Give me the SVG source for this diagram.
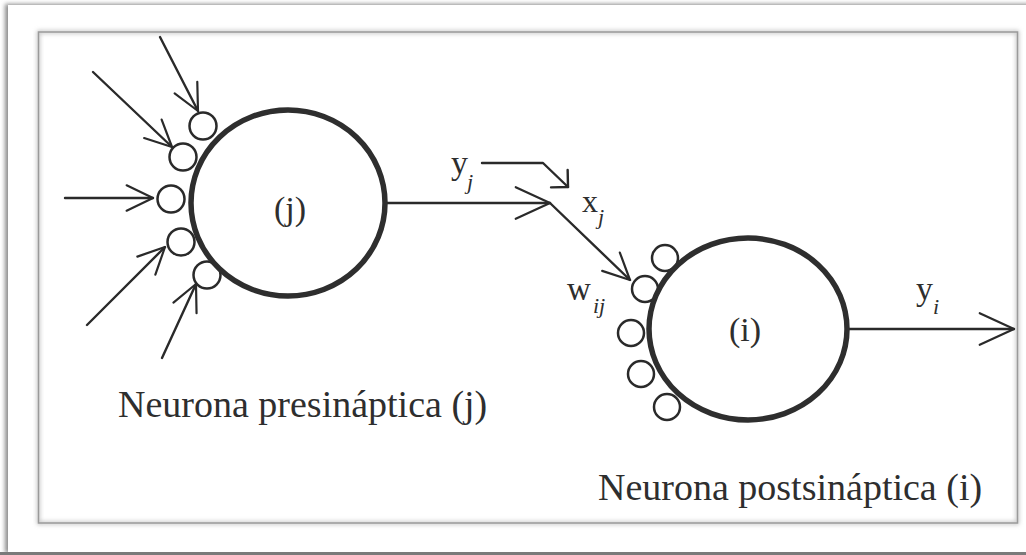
<svg xmlns="http://www.w3.org/2000/svg" width="1026" height="555" viewBox="0 0 1026 555">
  <style>
    .ink { stroke: #2a2a2a; fill: none; stroke-linecap: round; stroke-linejoin: round; }
    .wire { stroke-width: 2.4; }
    .soma { stroke: #2e2e2e; stroke-width: 5.5; fill: #fff; }
    .syn { stroke: #2a2a2a; stroke-width: 2.5; fill: #fff; }
    .lbl { font-family: "Liberation Serif", "Times New Roman", serif; fill: #2e2e2e; }
    .sub { font-style: italic; }
  </style>
  <defs>
    <filter id="pageShadow" x="-5%" y="-5%" width="110%" height="110%">
      <feGaussianBlur stdDeviation="2"/>
    </filter>
    <!-- open V arrowheads -->
    <marker id="arr" markerUnits="userSpaceOnUse" markerWidth="40" markerHeight="40" refX="0" refY="0" viewBox="-40 -20 44 40" orient="auto" overflow="visible">
      <path d="M-29,-14 L0,0 L-29,14" fill="none" stroke="#2a2a2a" stroke-width="2.4" stroke-linecap="round" stroke-linejoin="round"/>
    </marker>
    <marker id="arrL" markerUnits="userSpaceOnUse" markerWidth="50" markerHeight="50" refX="0" refY="0" viewBox="-50 -25 54 50" orient="auto" overflow="visible">
      <path d="M-37,-17 L0,0 L-37,17" fill="none" stroke="#2a2a2a" stroke-width="2.4" stroke-linecap="round" stroke-linejoin="round"/>
    </marker>
    <marker id="arrS" markerUnits="userSpaceOnUse" markerWidth="30" markerHeight="30" refX="0" refY="0" viewBox="-20 -15 24 30" orient="auto" overflow="visible">
      <path d="M-12,-12 L0,0 L-12,12" fill="none" stroke="#2a2a2a" stroke-width="2.4" stroke-linecap="round" stroke-linejoin="round"/>
    </marker>
  </defs>

  <!-- page and frame -->
  <rect x="0" y="0" width="1026" height="555" fill="#fff"/>
  <rect x="5" y="4" width="1030" height="549" fill="#8c8c8c" filter="url(#pageShadow)"/>
  <rect x="0" y="552" width="1026" height="3" fill="#7a7a7a"/>
  <rect x="8" y="5" width="1030" height="547" fill="#fff"/>
  <rect x="38.5" y="32" width="979" height="491" fill="none" stroke="#bdbdbd" stroke-width="3" filter="url(#pageShadow)"/>
  <rect x="38.5" y="32" width="979" height="491" fill="none" stroke="#9a9a9a" stroke-width="1.5"/>

  <!-- connectors -->
  <g id="connectors" class="ink wire">
    <line x1="160" y1="37" x2="198" y2="111" marker-end="url(#arr)"/>
    <line x1="93" y1="72" x2="172" y2="147" marker-end="url(#arr)"/>
    <line x1="65" y1="198" x2="153" y2="198" marker-end="url(#arr)"/>
    <line x1="87" y1="325" x2="165" y2="247" marker-end="url(#arr)"/>
    <line x1="162" y1="358" x2="196" y2="284" marker-end="url(#arr)"/>
    <line x1="385" y1="203" x2="550" y2="203" marker-end="url(#arrL)"/>
    <line x1="550" y1="203" x2="630" y2="280" marker-end="url(#arr)"/>
    <polyline points="482,163 543,163 568,187" marker-end="url(#arrS)"/>
    <line x1="847" y1="329" x2="1014" y2="329" marker-end="url(#arrL)"/>
  </g>

  <!-- presynaptic neuron -->
  <g id="neuron-j">
    <circle class="syn" cx="203" cy="126" r="13.5"/>
    <circle class="syn" cx="183" cy="157" r="13.5"/>
    <circle class="syn" cx="171" cy="199" r="13.5"/>
    <circle class="syn" cx="181" cy="242" r="13.5"/>
    <circle class="syn" cx="207" cy="275" r="13.5"/>
    <ellipse class="soma" cx="288" cy="203" rx="97" ry="93"/>
    <text class="lbl" x="290" y="220" font-size="34" text-anchor="middle">(j)</text>
  </g>

  <!-- postsynaptic neuron -->
  <g id="neuron-i">
    <circle class="syn" cx="665" cy="258" r="13"/>
    <circle class="syn" cx="645" cy="289" r="13"/>
    <circle class="syn" cx="631" cy="333" r="13"/>
    <circle class="syn" cx="641" cy="374" r="13"/>
    <circle class="syn" cx="667" cy="407" r="13"/>
    <ellipse class="soma" cx="748" cy="329" rx="99" ry="91"/>
    <text class="lbl" x="745" y="341" font-size="34" text-anchor="middle">(i)</text>
  </g>

  <!-- signal labels -->
  <g id="labels">
    <text class="lbl" x="451" y="174" font-size="34">y</text>
    <text class="lbl sub" x="467" y="189" font-size="22">j</text>
    <text class="lbl" x="582" y="212" font-size="32">x</text>
    <text class="lbl sub" x="598" y="224" font-size="22">j</text>
    <text class="lbl" x="567" y="300" font-size="33">w</text>
    <text class="lbl sub" x="593" y="313" font-size="22">ij</text>
    <text class="lbl" x="916" y="300" font-size="34">y</text>
    <text class="lbl sub" x="933" y="314" font-size="22">i</text>
    <text class="lbl" x="118" y="417" font-size="38">Neurona presináptica (j)</text>
    <text class="lbl" x="598" y="500" font-size="38">Neurona postsináptica (i)</text>
  </g>
</svg>
